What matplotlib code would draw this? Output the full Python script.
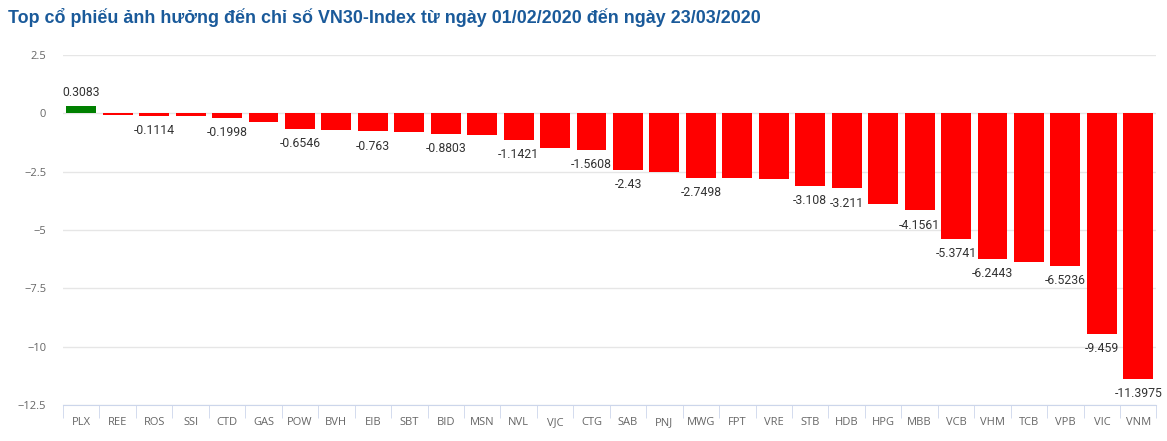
"""Top co phieu anh huong den VN30-Index, 01/02/2020 - 23/03/2020"""
import matplotlib.pyplot as plt

tickers = ["PLX", "REE", "ROS", "SSI", "CTD", "GAS", "POW", "BVH", "EIB", "SBT",
           "BID", "MSN", "NVL", "VJC", "CTG", "SAB", "PNJ", "MWG", "FPT", "VRE",
           "STB", "HDB", "HPG", "MBB", "VCB", "VHM", "TCB", "VPB", "VIC", "VNM"]
impact = [0.3083, -0.07, -0.1114, -0.13, -0.1998, -0.37, -0.6546, -0.72, -0.763, -0.80,
          -0.8803, -0.93, -1.1421, -1.50, -1.5608, -2.43, -2.52, -2.7498, -2.75, -2.83,
          -3.108, -3.211, -3.90, -4.1561, -5.3741, -6.2443, -6.38, -6.5236, -9.459, -11.3975]
# the chart only shows some of the value labels (others hidden to avoid overlap)
labelled = ["PLX", "ROS", "CTD", "POW", "EIB", "BID", "NVL", "CTG", "SAB", "MWG",
            "STB", "HDB", "MBB", "VCB", "VHM", "VPB", "VIC", "VNM"]
yticks = [2.5, 0, -2.5, -5, -7.5, -10, -12.5]


def main():
    plt.rcParams['font.family'] = ['Liberation Sans', 'DejaVu Sans']
    fig = plt.figure(figsize=(11.67, 4.41), dpi=100)
    ax = fig.add_axes([0.054, 0.082, 0.937, 0.793])

    x = range(len(tickers))
    colors = ["#008000" if v >= 0 else "#ff0000" for v in impact]
    ax.bar(x, impact, width=0.82, color=colors, zorder=3)

    for i, (name, v) in enumerate(zip(tickers, impact)):
        if name not in labelled:
            continue
        va = "bottom" if v >= 0 else "top"
        off = 5 if v >= 0 else -6
        ax.annotate(f"{v:g}", (i, v), xytext=(0, off), textcoords="offset points",
                    ha="center", va=va, fontsize=8.8, color="#333333",
                    family=["Roboto", "DejaVu Sans"])

    ax.set_xlim(-0.5, len(tickers) - 0.5)
    ax.set_ylim(-12.5, 2.5)
    ax.set_yticks(yticks)
    ax.set_yticklabels([f"{t:g}".replace("-", "\u2212") for t in yticks])
    ax.grid(axis="y", color="#e6e6e6", linewidth=1, zorder=0)

    ax.set_xticks(list(x))
    ax.set_xticklabels(tickers)
    ax.set_xticks([i - 0.5 for i in range(len(tickers) + 1)], minor=True)
    ax.tick_params(axis="x", which="major", length=0, pad=9, labelsize=8, labelcolor="#666666")
    ax.tick_params(axis="x", which="minor", length=9, color="#ccd6eb", direction="out")
    ax.tick_params(axis="y", length=0, pad=12, labelsize=8, labelcolor="#666666")
    for lbl in ax.get_xticklabels() + ax.get_yticklabels():
        lbl.set_family(["Open Sans", "DejaVu Sans"])

    for side in ["top", "right", "left"]:
        ax.spines[side].set_visible(False)
    ax.spines["bottom"].set_color("#ccd6eb")

    fig.text(0.007, 0.96, "Top cổ phiếu ảnh hưởng đến chỉ số VN30-Index từ ngày 01/02/2020 đến ngày 23/03/2020",
             fontsize=12.9, fontweight="bold", color="#1a5a9a", ha="left", va="center")

    fig.savefig("out.png", dpi=100)


if __name__ == "__main__":
    main()
